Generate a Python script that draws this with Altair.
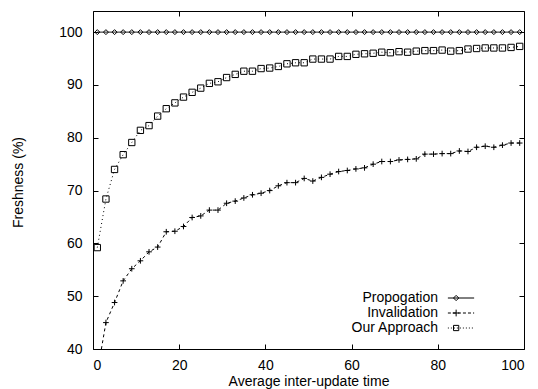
import altair as alt
import pandas as pd

# ---------------- data ----------------
x_vals = [1, 3, 5, 7, 9, 11, 13, 15, 17, 19, 21, 23, 25, 27, 29, 31, 33, 35, 37, 39,
          41, 43, 45, 47, 49, 51, 53, 55, 57, 59, 61, 63, 65, 67, 69, 71, 73, 75, 77, 79,
          81, 83, 85, 87, 89, 91, 93, 95, 97, 99]
propagation = [100, 100, 100, 100, 100, 100, 100, 100, 100, 100,
               100, 100, 100, 100, 100, 100, 100, 100, 100, 100,
               100, 100, 100, 100, 100, 100, 100, 100, 100, 100,
               100, 100, 100, 100, 100, 100, 100, 100, 100, 100,
               100, 100, 100, 100, 100, 100, 100, 100, 100, 100]
invalidation = [35.5, 45.0, 48.8, 52.9, 55.2, 56.7, 58.4, 59.3, 62.2, 62.3,
                63.2, 64.9, 65.2, 66.3, 66.3, 67.6, 68.0, 68.6, 69.2, 69.5,
                70.0, 70.9, 71.5, 71.5, 72.3, 71.8, 72.5, 73.1, 73.6, 73.8,
                74.1, 74.3, 75.0, 75.5, 75.5, 75.8, 75.9, 76.0, 76.9, 76.9,
                77.0, 77.0, 77.5, 77.4, 78.2, 78.4, 78.2, 78.6, 79.0, 79.0]
our_approach = [59.2, 68.4, 74.0, 76.8, 79.1, 81.4, 82.3, 84.1, 85.5, 86.6,
                87.7, 88.6, 89.4, 90.3, 90.6, 91.4, 92.0, 92.6, 92.6, 93.1,
                93.2, 93.5, 94.0, 94.2, 94.2, 94.9, 94.9, 94.9, 95.4, 95.4,
                95.8, 95.9, 96.0, 96.2, 96.1, 96.3, 96.2, 96.4, 96.5, 96.5,
                96.6, 96.4, 96.5, 96.8, 96.9, 97.0, 97.0, 97.0, 97.1, 97.3]
series_names = ["Propogation", "Invalidation", "Our Approach"]
x_ticks = [0, 20, 40, 60, 80, 100]
y_ticks = [40, 50, 60, 70, 80, 90, 100]

rows = []
for name, vals in zip(series_names, [propagation, invalidation, our_approach]):
    for xv, yv in zip(x_vals, vals):
        rows.append({"x": xv, "value": yv, "series": name})
df = pd.DataFrame(rows)

# ---------------- style ----------------
W, H = 431, 338
FONT = "Liberation Sans"
FS = 14

xscale = alt.Scale(domain=[0, 100], nice=False, zero=False)
yscale = alt.Scale(domain=[40, 104], nice=False, zero=False)

plus_path = "M-1,0L1,0M0,-1L0,1"

# legend symbols: line sample + marker, drawn as one path
U = 1.75
CX = -0.65


def dashes(on, off):
    segs = []
    a = -U
    while a < U:
        b = min(a + on, U)
        segs.append(f"M{a:.3f},0L{b:.3f},0")
        a = b + off
    return "".join(segs)


r = 0.35
diamond_p = f"M{CX - r:.3f},0L{CX:.3f},{-r:.3f}L{CX + r:.3f},0L{CX:.3f},{r:.3f}Z"
square_p = (f"M{CX - r:.3f},{-r:.3f}L{CX + r:.3f},{-r:.3f}L{CX + r:.3f},{r:.3f}"
            f"L{CX - r:.3f},{r:.3f}Z")
rp = 0.45
plus_p = f"M{CX - rp:.3f},0L{CX + rp:.3f},0M{CX:.3f},{-rp:.3f}L{CX:.3f},{rp:.3f}"
legend_shapes = [
    f"M{-U:.3f},0L{U:.3f},0" + diamond_p,
    dashes(0.4, 0.27) + plus_p,
    dashes(0.13, 0.27) + square_p,
]

tick_axis_common = dict(labels=False, domain=False, grid=False, ticks=True,
                        tickSize=5, tickColor="black", tickWidth=1, title=None)

base = alt.Chart(df)

# lines with the labelled axes
lines = base.mark_line(clip=True, color="black", strokeWidth=1).encode(
    x=alt.X("x:Q", scale=xscale,
            axis=alt.Axis(orient="bottom", values=x_ticks, ticks=False, tickSize=0,
                          domain=False, grid=False, labelPadding=20,
                          labelBaseline="alphabetic",
                          labelFont=FONT, labelFontSize=FS, labelColor="black",
                          title="Average inter-update time", titleFont=FONT,
                          titleFontSize=FS, titleFontWeight="normal",
                          titleColor="black", titleBaseline="alphabetic",
                          titleY=36)),
    y=alt.Y("value:Q", scale=yscale,
            axis=alt.Axis(orient="left", values=y_ticks, ticks=False, tickSize=0,
                          domain=False, grid=False, labelPadding=11,
                          labelFont=FONT, labelFontSize=FS, labelColor="black",
                          title="Freshness (%)", titleFont=FONT, titleFontSize=FS,
                          titleFontWeight="normal", titleColor="black",
                          titleBaseline="alphabetic", titleX=-71, titleY=171)),
    strokeDash=alt.StrokeDash("series:N",
                              scale=alt.Scale(domain=series_names,
                                              range=[[1, 0], [3, 3], [1, 3]]),
                              legend=None),
    detail="series:N",
)

# point markers + inward ticks at left and bottom
points = base.mark_point(clip=True, color="black", filled=False, strokeWidth=1,
                         opacity=1).encode(
    x=alt.X("x:Q", scale=xscale,
            axis=alt.Axis(orient="top", offset=-H, values=x_ticks, **tick_axis_common)),
    y=alt.Y("value:Q", scale=yscale,
            axis=alt.Axis(orient="right", offset=-W, values=y_ticks, **tick_axis_common)),
    shape=alt.Shape("series:N",
                    scale=alt.Scale(domain=series_names,
                                    range=["diamond", plus_path, "square"]),
                    legend=None),
    size=alt.Size("series:N",
                  scale=alt.Scale(domain=series_names, range=[25, 40, 28]),
                  legend=None),
)

# legend carrier (no marks drawn) + inward ticks at top and right
legend_layer = base.transform_filter("datum.x < 0").mark_point(
    color="black", filled=False, strokeWidth=1).encode(
    x=alt.X("x:Q", scale=xscale,
            axis=alt.Axis(orient="bottom", offset=-H, values=x_ticks, **tick_axis_common)),
    y=alt.Y("value:Q", scale=yscale,
            axis=alt.Axis(orient="left", offset=-W, values=y_ticks, **tick_axis_common)),
    shape=alt.Shape("series:N",
                    scale=alt.Scale(domain=series_names, range=legend_shapes),
                    legend=alt.Legend(title=None, orient="none", legendX=360,
                                      legendY=279, symbolSize=225,
                                      symbolStrokeColor="black",
                                      symbolStrokeWidth=1,
                                      symbolFillColor="transparent",
                                      symbolOpacity=1,
                                      labelFont=FONT, labelFontSize=FS,
                                      labelColor="black", labelAlign="right",
                                      labelOffset=alt.ExprRef(expr="-31"),
                                      rowPadding=0, padding=0)),
)

chart = alt.layer(lines, points, legend_layer).resolve_scale(
    shape="independent"
).resolve_axis(
    x="independent", y="independent"
).properties(
    width=W, height=H,
    autosize=alt.AutoSizeParams(type="none"),
    padding={"left": 93, "top": 11, "right": 14, "bottom": 40},
    background="white",
).configure_view(
    stroke="black", strokeWidth=1
)

chart.save("out.html", embed_options={"renderer": "svg", "actions": False})
